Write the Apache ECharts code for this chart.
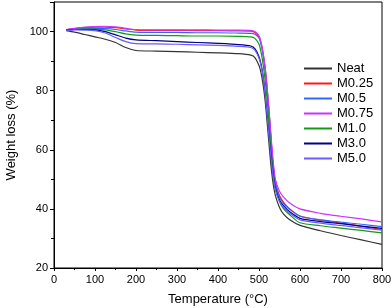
<!DOCTYPE html>
<html><head><meta charset="utf-8">
<script src="https://cdn.jsdelivr.net/npm/echarts@6/dist/echarts.min.js"></script>
<style>html,body{margin:0;padding:0;background:#fff}#c{width:392px;height:308px}</style>
</head><body><div id="c"></div>
<script>
const temps = [30, 50, 75, 100, 125, 150, 175, 200, 250, 300, 350, 400, 450, 480, 490, 500, 505, 510, 515, 520, 525, 530, 535, 540, 550, 560, 575, 600, 650, 700, 750, 800];
const seriesNames = ['Neat', 'M0.25', 'M0.5', 'M0.75', 'M1.0', 'M3.0', 'M5.0'];
const neat  = [100.3, 99.8, 99.0, 98.2, 97.4, 96.3, 94.6, 93.6, 93.4, 93.2, 93.0, 92.8, 92.5, 92.0, 91.2, 88.5, 86.0, 82.0, 76.5, 69.0, 61.0, 53.5, 48.0, 44.5, 40.5, 38.2, 36.3, 34.4, 32.6, 31.0, 29.5, 28.0];
const m025  = [100.6, 101.0, 101.3, 101.5, 101.5, 101.3, 100.9, 100.5, 100.4, 100.4, 100.3, 100.3, 100.2, 100.1, 99.7, 98.2, 96.0, 92.5, 87.5, 80.5, 72.0, 62.5, 54.5, 49.0, 44.5, 42.2, 40.0, 37.6, 36.2, 35.2, 34.1, 33.0];
const m05   = [100.6, 100.9, 101.0, 101.1, 101.0, 100.7, 100.2, 99.8, 99.7, 99.7, 99.6, 99.6, 99.5, 99.4, 99.1, 97.8, 95.6, 92.0, 87.0, 80.0, 71.5, 62.0, 54.0, 48.5, 44.0, 41.8, 39.8, 37.5, 36.3, 35.5, 34.8, 34.0];
const m075  = [100.7, 101.1, 101.5, 101.7, 101.8, 101.6, 101.1, 100.7, 100.6, 100.6, 100.6, 100.5, 100.5, 100.4, 100.0, 98.6, 96.4, 93.0, 88.0, 81.0, 72.5, 63.5, 55.5, 50.0, 46.0, 44.0, 42.0, 40.0, 38.5, 37.5, 36.6, 35.6];
const m10   = [100.5, 100.7, 100.8, 100.8, 100.6, 100.0, 99.2, 98.8, 98.7, 98.6, 98.5, 98.5, 98.4, 98.2, 97.7, 95.7, 93.0, 89.0, 83.5, 76.5, 68.0, 59.0, 52.0, 47.0, 42.5, 40.0, 38.0, 35.3, 34.3, 33.5, 32.7, 31.9];
const m30   = [100.5, 100.7, 100.7, 100.6, 100.0, 98.9, 97.8, 97.2, 96.9, 96.6, 96.3, 96.0, 95.6, 95.1, 94.2, 91.5, 89.0, 85.0, 79.0, 71.5, 64.0, 57.0, 51.0, 47.0, 43.0, 41.0, 39.0, 36.8, 35.7, 35.0, 34.2, 33.4];
const m50   = [100.4, 100.6, 100.5, 100.3, 99.5, 98.0, 96.6, 95.9, 95.8, 95.7, 95.5, 95.3, 95.0, 94.6, 93.7, 91.0, 88.5, 84.5, 78.5, 71.0, 63.5, 56.5, 50.5, 46.5, 42.5, 40.5, 38.5, 36.3, 35.2, 34.4, 33.6, 32.8];
const xTicks = [0, 100, 200, 300, 400, 500, 600, 700, 800];
const yTicks = [20, 40, 60, 80, 100];

const allValues = [neat, m025, m05, m075, m10, m30, m50];
const colors = ['#333333', '#ff1a1a', '#3366ff', '#cc33ff', '#139a13', '#00008b', '#6a5cff'];
const font = 'Liberation Sans, Arial, sans-serif';

const chart = echarts.init(document.getElementById('c'), null, {renderer: 'canvas'});
chart.setOption({
  animation: false,
  backgroundColor: '#fff',
  grid: {left: 54, right: 10, top: 2, bottom: 40, containLabel: false, outerBoundsMode: 'none',
    show: true, borderColor: '#000', borderWidth: 1},
  legend: {
    orient: 'vertical', left: 304, top: 61, padding: 0, itemWidth: 28, itemHeight: 2, itemGap: 0, icon: 'rect',
    textStyle: {fontFamily: font, fontSize: 13, color: '#000', lineHeight: 15},
    data: seriesNames
  },
  xAxis: {
    type: 'value', min: 0, max: 800, interval: 100,
    name: 'Temperature (°C)', nameLocation: 'middle', nameGap: 25,
    nameTextStyle: {fontFamily: font, fontSize: 13, color: '#000'},
    axisLine: {lineStyle: {color: '#000'}},
    axisTick: {show: true, length: 3, lineStyle: {color: '#000'}},
    minorTick: {show: true, splitNumber: 2, length: 2, lineStyle: {color: '#000'}},
    splitLine: {show: false},
    axisLabel: {fontFamily: font, fontSize: 11, color: '#000', margin: 6,
      formatter: v => xTicks.includes(v) ? String(v) : ''}
  },
  yAxis: {
    type: 'value', min: 20, max: 110, interval: 20,
    name: 'Weight loss (%)', nameLocation: 'middle', nameGap: 36,
    nameTextStyle: {fontFamily: font, fontSize: 13, color: '#000'},
    axisLine: {show: true, lineStyle: {color: '#000'}},
    axisTick: {show: true, length: 4, lineStyle: {color: '#000'}},
    minorTick: {show: true, splitNumber: 2, length: 3, lineStyle: {color: '#000'}},
    splitLine: {show: false},
    axisLabel: {fontFamily: font, fontSize: 11, color: '#000', margin: 6, showMaxLabel: false,
      formatter: v => yTicks.includes(v) ? String(v) : ''}
  },
  series: seriesNames.map((n, i) => ({
    name: n, type: 'line', symbol: 'none', smooth: 0.25,
    data: temps.map((t, j) => [t, allValues[i][j]]),
    lineStyle: {color: colors[i], width: 1.2},
    itemStyle: {color: colors[i]}
  }))
});
</script></body></html>
